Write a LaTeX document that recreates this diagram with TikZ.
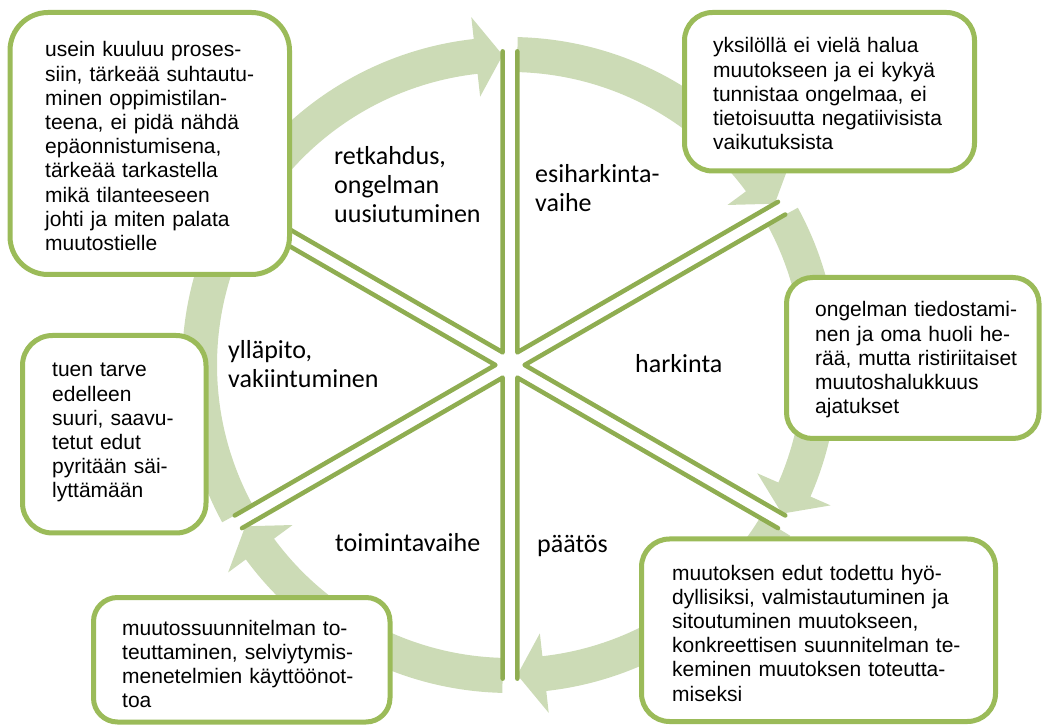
\documentclass[tikz,border=0pt]{standalone}
\usepackage{fontspec}
\setmainfont{Liberation Sans}
\newfontfamily\vaihefont{Carlito}
\definecolor{reuna}{RGB}{155,187,89}
\definecolor{raja}{RGB}{143,173,81}
\definecolor{nuoli}{RGB}{204,219,182}
\tikzset{
  kortti/.style={draw=reuna, line width=5pt, fill=white},
  kuvaus/.style={anchor=base west, inner sep=0pt, text width=330pt, align=left,
    font=\fontsize{21}{24.2}\selectfont},
  vaihe/.style={anchor=base west, inner sep=0pt, text width=200pt, align=left,
    font=\vaihefont\fontsize{26}{28.7}\selectfont},
  rajaviiva/.style={draw=raja, line width=4.5pt, line cap=round, line join=round},
}
\begin{document}
\begin{tikzpicture}[x=1pt, y=1pt]
			%%%%% START %%%%%
			\useasboundingbox (0,0) rectangle (1044,726);
			
			\begin{scope}[shift={(510,361)}]
				% kehan nuolet
				\foreach \k [evaluate=\k as \alku using 88.65-60*\k,
				             evaluate=\k as \kanta using 36.35-60*\k,
				             evaluate=\k as \karki using 31.35-60*\k] in {0,...,5}
				\fill[nuoli] (\alku:328) arc[start angle=\alku, end angle=\kanta, radius=328]
				  -- (\kanta:350) -- (\karki:310) -- (\kanta:270) -- (\kanta:293)
				  arc[start angle=\kanta, end angle=\alku, radius=293] -- cycle;
				
				% sektorien rajat
				\foreach \k [evaluate=\k as \yla using 90-60*\k,
				             evaluate=\k as \ala using 30-60*\k,
				             evaluate=\k as \keski using 60-60*\k] in {0,...,5}
				\draw[rajaviiva] (\keski:14.6) ++(\yla:301) -- (\keski:14.6) -- ++(\ala:301);
			\end{scope}
			
			\draw[kortti, rounded corners=38pt] (10,713.5) rectangle (289.5,451.5);
			\draw[kortti, rounded corners=28pt] (684.5,713.5) rectangle (974.5,555);
			\draw[kortti, rounded corners=26pt] (786.5,448.5) rectangle (1039,287.5);
			\draw[kortti, rounded corners=28pt] (641.5,187) rectangle (995.5,4.5);
			\draw[kortti, rounded corners=24pt] (93.5,128.5) rectangle (390,4);
			\draw[kortti, rounded corners=30pt] (22.5,390.5) rectangle (206,193);
			
			\node[kuvaus] (retkahdusteksti) at (45,669) {usein kuuluu proses-\\siin, tärkeää suhtautu-\\minen oppimistilan-\\teena, ei pidä nähdä\\epäonnistumisena,\\tärkeää tarkastella\\mikä tilanteeseen\\johti ja miten palata\\muutostielle};
			\node[kuvaus] (esiharkintateksti) at (713,673) {yksilöllä ei vielä halua\\muutokseen ja ei kykyä\\tunnistaa ongelmaa, ei\\tietoisuutta negatiivisista\\vaikutuksista};
			\node[kuvaus] (harkintateksti) at (815,409) {ongelman tiedostami-\\nen ja oma huoli he-\\rää, mutta ristiriitaiset\\muutoshalukkuus\\ajatukset};
			\node[kuvaus] (paatosteksti) at (672,146) {muutoksen edut todettu hyö-\\dyllisiksi, valmistautuminen ja\\sitoutuminen muutokseen,\\konkreettisen suunnitelman te-\\keminen muutoksen toteutta-\\miseksi};
			\node[kuvaus] (toimintateksti) at (122,91) {muutossuunnitelman to-\\teuttaminen, selviytymis-\\menetelmien käyttöönot-\\toa};
			\node[kuvaus] (yllapitoteksti) at (52,349) {tuen tarve\\edelleen\\suuri, saavu-\\tetut edut\\pyritään säi-\\lyttämään};
			
			\node[vaihe] (retkahdus) at (334,561) {retkahdus,\\ongelman\\uusiutuminen};
			\node[vaihe] (esiharkinta) at (535,543) {esiharkinta-\\vaihe};
			\node[vaihe] (harkinta) at (635,353) {harkinta};
			\node[vaihe] (paatos) at (537,173) {päätös};
			\node[vaihe] (toiminta) at (335,175) {toimintavaihe};
			\node[vaihe] (yllapito) at (228,367) {ylläpito,\\vakiintuminen};
			
			%%%%% END %%%%%
\end{tikzpicture}
\end{document}
